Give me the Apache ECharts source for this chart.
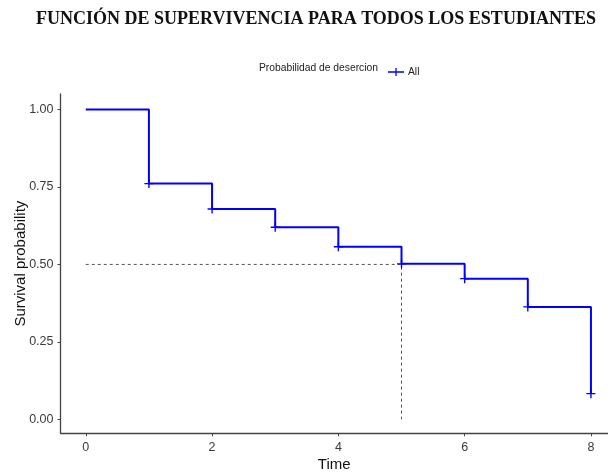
<!DOCTYPE html>
<html>
<head>
<meta charset="utf-8">
<script src="https://cdn.jsdelivr.net/npm/echarts@6/dist/echarts.min.js"></script>
<style>
  html, body { margin: 0; padding: 0; background: #fff; }
  #chart { width: 608px; height: 472px; }
</style>
</head>
<body>
<div id="chart"></div>
<script>
// Kaplan–Meier estimate for all students
const times = [0, 1, 2, 3, 4, 5, 6, 7, 8];
const survival = [1.00, 0.761, 0.679, 0.620, 0.557, 0.502, 0.454, 0.363, 0.083];
const xTicks = [0, 2, 4, 6, 8];
const yTicks = [0, 0.25, 0.5, 0.75, 1];
// median survival guide: time where S(t) reaches 0.5
const medianTime = 5;
const medianLevel = 0.5;

const stepData = times.map((t, i) => [t, survival[i]]);
const markData = stepData.slice(1);
const guideData = [[0, medianLevel], [medianTime, medianLevel], [medianTime, 0]];

const plusIcon = 'path://M-1,-0.15H1V0.15H-1Z M-0.15,-1H0.15V1H-0.15Z';
const legendIcon = 'path://M0,0.42H2V0.58H0Z M0.92,0H1.08V1H0.92Z';

const chart = echarts.init(document.getElementById('chart'));
chart.setOption({
  animation: false,
  backgroundColor: '#fff',
  title: {
    text: 'FUNCIÓN DE SUPERVIVENCIA PARA TODOS LOS ESTUDIANTES',
    left: 311, top: 5, textAlign: 'center',
    textStyle: { fontFamily: 'Liberation Serif', fontWeight: 'bold', fontSize: 18, color: '#111' }
  },
  graphic: [{
    type: 'text', right: 608 - 378, top: 63,
    style: { text: 'Probabilidad de desercion', font: '10.3px "Liberation Sans"', fill: '#222', textAlign: 'right' }
  }],
  legend: {
    left: 383, top: 62, itemWidth: 16, itemHeight: 9, itemGap: 5,
    data: [{ name: 'All', icon: legendIcon }],
    textStyle: { fontFamily: 'Liberation Sans', fontSize: 10.3, color: '#222', padding: [0, 0, 0, -1] }
  },
  grid: { left: 60.5, right: 0, top: 94, bottom: 38.7, containLabel: false, outerBoundsMode: 'none' },
  xAxis: {
    type: 'value', min: -0.4, max: 8.27,
    name: 'Time', nameLocation: 'middle', nameGap: 24, nameMoveOverlap: false,
    nameTextStyle: { fontFamily: 'Liberation Sans', fontSize: 15, color: '#111' },
    axisLine: { show: true, onZero: false, lineStyle: { color: '#444', width: 1.3 } },
    axisTick: { show: true, length: 3, customValues: xTicks, lineStyle: { color: '#444' } },
    axisLabel: { customValues: xTicks, margin: 8, fontFamily: 'Liberation Sans', fontSize: 12.5, color: '#3a3a3a' },
    splitLine: { show: false }
  },
  yAxis: {
    type: 'value', min: -0.045, max: 1.05,
    name: 'Survival probability', nameLocation: 'middle', nameGap: 32, nameMoveOverlap: false,
    nameTextStyle: { fontFamily: 'Liberation Sans', fontSize: 15, color: '#111' },
    axisLine: { show: true, onZero: false, lineStyle: { color: '#444', width: 1.3 } },
    axisTick: { show: true, length: 3, customValues: yTicks, lineStyle: { color: '#444' } },
    axisLabel: {
      customValues: yTicks, margin: 7, fontFamily: 'Liberation Sans', fontSize: 12.5, color: '#3a3a3a',
      formatter: v => v.toFixed(2)
    },
    splitLine: { show: false }
  },
  series: [
    {
      name: 'guide', type: 'line', data: guideData, symbol: 'none', silent: true,
      lineStyle: { color: '#555', width: 1, type: [3, 3] }, z: 1
    },
    {
      name: 'All', type: 'line', step: 'end', data: stepData, symbol: 'none',
      lineStyle: { color: '#0000ff', width: 2 }, itemStyle: { color: '#0000ff' }, z: 3
    },
    {
      name: 'All', type: 'scatter', data: markData, symbol: plusIcon, symbolSize: 9,
      itemStyle: { color: '#0000ff', opacity: 1 }, z: 4
    }
  ]
});
</script>
</body>
</html>
